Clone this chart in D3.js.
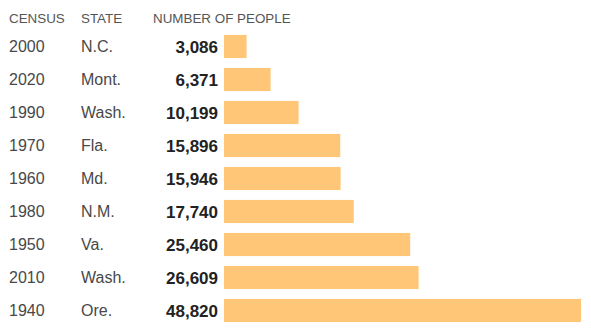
<!DOCTYPE html>
<html>
<head>
<meta charset="utf-8">
<script src="https://cdn.jsdelivr.net/npm/d3@7"></script>
<style>
  body { margin: 0; background: #fff; }
  svg text { font-family: "Liberation Sans", Arial, sans-serif; }
  .head { font-size: 13.4px; fill: #555; }
  .lab { font-size: 16px; fill: #484848; }
  .num { font-size: 17px; font-weight: bold; fill: #222; }
</style>
</head>
<body>
<script>
(function(){

    //chart data
    var censusYears = ["2000", "2020", "1990", "1970", "1960", "1980", "1950", "2010", "1940"];
    var states = ["N.C.", "Mont.", "Wash.", "Fla.", "Md.", "N.M.", "Va.", "Wash.", "Ore."];
    var people = [3086, 6371, 10199, 15896, 15946, 17740, 25460, 26609, 48820];
    var headers = ["CENSUS", "STATE", "NUMBER OF PEOPLE"];

    var width = 591, height = 336;

    var svg = d3.select("body")
        .append("svg")
        .attr("width", width)
        .attr("height", height);

    //rows
    var yScale = d3.scaleBand()
        .domain(d3.range(people.length))
        .range([30, 327])
        .paddingInner(0.3)
        .paddingOuter(0.15);

    //bar length
    var xScale = d3.scaleLinear()
        .domain([0, d3.max(people)])
        .range([224, 581]);

    var fmt = d3.format(",");

    //column headers
    svg.selectAll(".head")
        .data(headers)
        .enter()
        .append("text")
        .attr("class", "head")
        .attr("x", function(d, i){ return [9, 81, 153][i]; })
        .attr("y", 23)
        .text(function(d){ return d; });

    var rows = svg.selectAll(".row")
        .data(people)
        .enter()
        .append("g")
        .attr("class", "row")
        .attr("transform", function(d, i){ return "translate(0," + yScale(i) + ")"; });

    var mid = yScale.bandwidth() / 2;

    rows.append("text")
        .attr("class", "lab")
        .attr("x", 9)
        .attr("y", mid)
        .attr("dy", "0.36em")
        .text(function(d, i){ return censusYears[i]; });

    rows.append("text")
        .attr("class", "lab")
        .attr("x", 81)
        .attr("y", mid)
        .attr("dy", "0.36em")
        .text(function(d, i){ return states[i]; });

    rows.append("text")
        .attr("class", "num")
        .attr("x", 218)
        .attr("y", mid)
        .attr("dy", "0.36em")
        .attr("text-anchor", "end")
        .text(function(d){ return fmt(d); });

    rows.append("rect")
        .attr("x", xScale(0))
        .attr("y", 0)
        .attr("width", function(d){ return xScale(d) - xScale(0); })
        .attr("height", yScale.bandwidth())
        .style("fill", "#ffc677");

})();
</script>
</body>
</html>
